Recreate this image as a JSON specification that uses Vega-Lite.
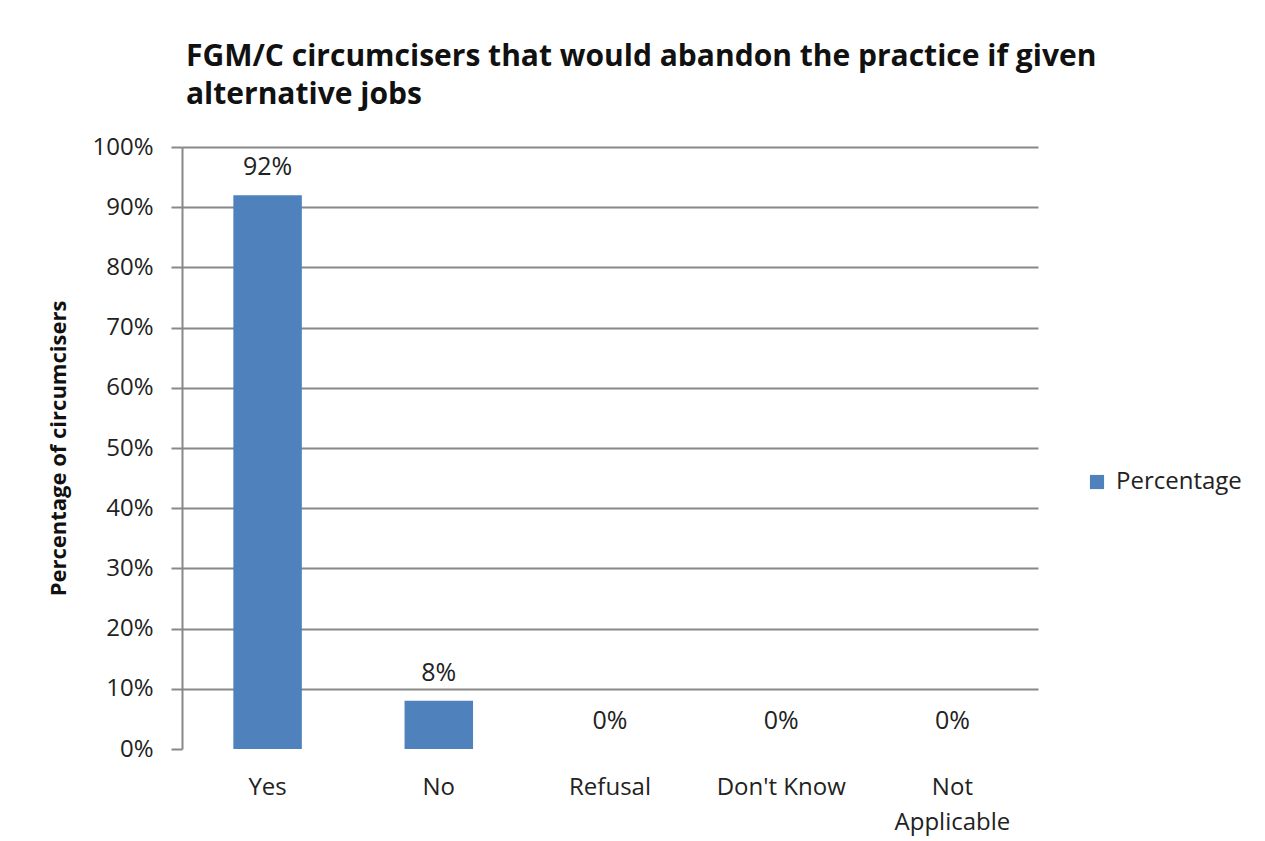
{
  "$schema": "https://vega.github.io/schema/vega-lite/v6.json",
  "width": 856,
  "height": 602,
  "autosize": {"type": "none"},
  "padding": {"left": 182, "top": 147, "right": 227, "bottom": 92},
  "background": "white",
  "title": {
    "text": ["FGM/C circumcisers that would abandon the practice if given", "alternative jobs"],
    "anchor": "start",
    "frame": "group",
    "font": "Open Sans",
    "fontSize": 30,
    "fontWeight": "bold",
    "color": "#111111",
    "lineHeight": 38,
    "dx": 4,
    "offset": 25
  },
  "data": {
    "values": [
      {"response": "Yes", "percentage": 0.92},
      {"response": "No", "percentage": 0.08},
      {"response": "Refusal", "percentage": 0},
      {"response": "Don't Know", "percentage": 0},
      {"response": "Not Applicable", "percentage": 0}
    ]
  },
  "encoding": {
    "x": {
      "field": "response",
      "type": "nominal",
      "sort": null,
      "scale": {"paddingInner": 0, "paddingOuter": 0},
      "axis": {
        "title": null,
        "labelAngle": 0,
        "domain": false,
        "ticks": false,
        "labelPadding": 26,
        "labelFont": "Open Sans",
        "labelFontSize": 24,
        "labelColor": "#222222",
        "labelLineHeight": 35,
        "labelExpr": "datum.label == 'Not Applicable' ? ['Not', 'Applicable'] : datum.label"
      }
    },
    "y": {
      "field": "percentage",
      "type": "quantitative",
      "scale": {"domain": [0, 1]},
      "axis": {
        "title": "Percentage of circumcisers",
        "titleFont": "Open Sans",
        "titleFontSize": 22,
        "titleFontWeight": "bold",
        "titleColor": "#111111",
        "titlePadding": 21,
        "format": ".0%",
        "values": [0, 0.1, 0.2, 0.3, 0.4, 0.5, 0.6, 0.7, 0.8, 0.9, 1],
        "labelFont": "Open Sans",
        "labelFontSize": 24,
        "labelColor": "#222222",
        "labelPadding": 18,
        "tickSize": 11,
        "tickColor": "#888888",
        "tickWidth": 2,
        "domainColor": "#888888",
        "domainWidth": 2,
        "grid": true,
        "gridColor": "#888888",
        "gridWidth": 2,
        "gridOpacity": {"condition": {"test": "datum.value === 0", "value": 0}, "value": 1}
      }
    }
  },
  "layer": [
    {
      "mark": {"type": "bar", "width": {"band": 0.4}},
      "encoding": {
        "color": {
          "datum": "Percentage",
          "type": "nominal",
          "scale": {"range": ["#4F81BD"]},
          "legend": {
            "title": null,
            "orient": "none",
            "legendX": 903,
            "legendY": 323,
            "symbolType": "square",
            "symbolSize": 200,
            "labelFont": "Open Sans",
            "labelFontSize": 24,
            "labelColor": "#222222",
            "labelOffset": 7
          }
        }
      }
    },
    {
      "mark": {"type": "text", "baseline": "bottom", "dy": -15, "font": "Open Sans", "fontSize": 25, "color": "#222222"},
      "encoding": {
        "text": {"field": "percentage", "type": "quantitative", "format": ".0%"}
      }
    }
  ],
  "config": {"view": {"stroke": null}}
}
